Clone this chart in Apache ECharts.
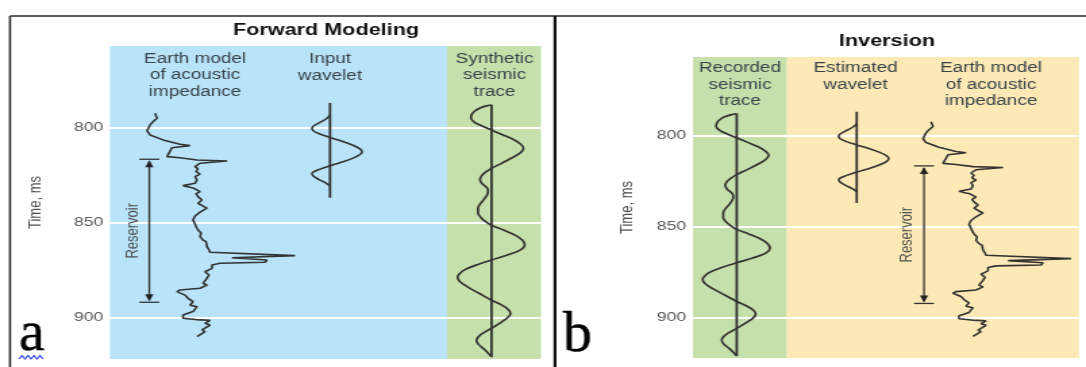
<!DOCTYPE html>
<html>
<head>
<meta charset="utf-8">
<script src="https://cdn.jsdelivr.net/npm/echarts@6/dist/echarts.min.js"></script>
<style>
  html, body { margin: 0; padding: 0; background: #ffffff; overflow: hidden; }
  #chart { height: 367px; transform-origin: 0 0; }
</style>
</head>
<body>
<div id="chart"></div>
<script>
// ---- values ----------------------------------------------------------
const timeRange = [757, 922];          // two-way time shown, ms
const timeTicks = [800, 850, 900];

// Earth model of acoustic impedance (relative units) against time (ms)
const impedanceTime = [792.5, 795.1, 796.9, 798.6, 801.8, 803.9, 806.5, 808.8, 809.5, 810.6,
  815.3, 815.9, 817.1, 817.6, 818.8, 820.6, 821.8, 823.2, 824.5, 825.9, 827.6, 829.4, 830.6,
  831.5, 832.0, 833.8, 835.0, 836.4, 838.2, 839.9, 841.7, 842.5, 844.6, 846.6, 848.7, 850.8,
  852.2, 854.0, 855.6, 857.5, 859.3, 860.1, 862.8, 864.5, 865.7, 867.5, 868.6, 869.8, 871.0,
  871.5, 872.4, 874.2, 876.0, 877.7, 879.4, 882.1, 883.0, 884.7, 885.6, 886.5, 888.3, 890.0,
  891.8, 893.6, 894.4, 897.0, 898.8, 900.5, 901.4, 901.6, 903.2, 904.1, 906.7, 907.6, 910.2];
const impedanceValue = [15, 17, 13, 10, 7, 10, 23, 40, 50, 32,
  27, 40, 57, 87, 60, 55, 58, 56, 60, 55, 57, 55, 43,
  50, 54, 60, 56, 58, 62, 58, 64, 67, 60, 55, 53, 55,
  56, 58, 61, 60, 63, 66, 67, 69, 70, 155, 92, 127, 125,
  80, 72, 72, 65, 69, 67, 63, 67, 60, 40, 37, 45, 48,
  53, 50, 57, 53, 43, 43, 60, 70, 65, 70, 62, 65, 57];

// Wavelet (input / estimated)
const waveletTime = [793.5, 795.5, 797.5, 799.2, 800.4, 801.8, 803.4, 805.2, 807.2, 809.3, 811.2,
  812.7, 814.2, 816.1, 818.2, 820.1, 821.9, 823.2, 824.3, 825.6, 827.4, 829.3, 831.0];
const waveletAmp = [0, -4, -11, -16.5, -18, -16.5, -10, 0, 12, 23, 30,
  32, 30, 23, 12, 0, -10, -16, -18, -16.5, -11, -4, 0];
const waveletSpan = [787, 837];

// Seismic trace (synthetic / recorded)
const traceTime = [788.1, 788.7, 789.8, 791.4, 793.3, 795.1, 797.2, 799.3, 801.3, 803.8, 806.3,
  808.7, 810.9, 813.2, 815.8, 818.6, 821.5, 823.5, 825.5, 827.5, 829.5, 831.5, 833.0, 835.0,
  837.5, 840.0, 842.5, 845.0, 847.5, 849.7, 851.5, 854.0, 856.8, 859.4, 861.9, 864.5, 867.2,
  869.8, 872.4, 875.0, 877.0, 878.8, 881.0, 884.0, 887.5, 891.0, 893.5, 896.0, 898.0, 900.0,
  902.5, 905.8, 908.5, 910.5, 912.3, 914.3, 917.0, 920.8];
const traceAmp = [0, -6, -12, -17, -20, -20.5, -17, -9, 0, 11, 22,
  29, 32, 29, 21, 11, 0, -6, -10, -11.5, -9.5, -5, -3.5, -4,
  -7, -11, -13.5, -13.5, -10.5, -5.5, 0, 12, 24, 31, 33.3, 29, 16,
  0, -15, -27, -32, -34, -32, -24, -12, 0, 10, 17, 19, 16.5,
  10, 0, -9, -13.5, -15, -13, -7, 0];
const traceSpan = [788, 921];

// Reservoir interval, ms
const reservoir = [816.7, 892.1];

// ---- layout ----------------------------------------------------------
const S = 1086 / 804;                 // the drawing is widened horizontally by S
const px = v => v / S;
const FONT = '"Liberation Sans", Arial, Helvetica, sans-serif';
const INK = '#333333';
const COLORS = { blue: '#b8e3f8', green: '#c5e0ab', yellow: '#fde9b5' };

const el = document.getElementById('chart');
el.style.width = '804px';
el.style.transform = 'scaleX(' + S + ')';

const pairs = (xs, ys) => xs.map((x, i) => [x, ys[i]]);

// columns: [left, width, top, height, color]
const cols = [
  [110, 337, 46, 313, COLORS.blue],
  [447, 94, 46, 313, COLORS.green],
  [693, 94, 57, 301, COLORS.green],
  [787, 292, 57, 301, COLORS.yellow]
];
const grids = cols.map(c => ({
  left: px(c[0]), width: px(c[1]), top: c[2], height: c[3],
  show: true, backgroundColor: c[4], borderWidth: 0, containLabel: false
}));

function timeAxis(gridIndex, labelled, nameGap) {
  return {
    type: 'value', gridIndex, min: timeRange[0], max: timeRange[1], inverse: true,
    axisLine: { show: false },
    axisTick: { show: false, customValues: timeTicks },
    axisLabel: { show: labelled, customValues: timeTicks, margin: 5, color: '#555',
      fontSize: 13, fontFamily: FONT },
    splitLine: { show: true, lineStyle: { color: '#ffffff', width: 2 } },
    name: labelled ? 'Time, ms' : '', nameLocation: 'middle', nameRotate: 90, nameGap,
    nameTextStyle: { color: '#505050', fontSize: 13, fontFamily: FONT }
  };
}

// one hidden amplitude axis per track: zero lands at `zeroAt` (px) inside its column
function track(gridIndex, zeroAt) {
  const c = cols[gridIndex];
  return { type: 'value', gridIndex, show: false,
    min: c[0] - zeroAt, max: c[0] + c[1] - zeroAt,
    axisLine: { show: false }, splitLine: { show: false } };
}

const xAxes = [
  track(0, 140),    // 0 impedance (forward)
  track(0, 330),    // 1 input wavelet
  track(0, 149.3),  // 2 reservoir marker
  track(1, 491.5),  // 3 synthetic trace
  track(2, 736.7),  // 4 recorded trace
  track(3, 856.7),  // 5 estimated wavelet
  track(3, 916),    // 6 impedance (inversion)
  track(3, 924)     // 7 reservoir marker
];

function curve(xi, yi, data, smooth, width) {
  return { type: 'line', xAxisIndex: xi, yAxisIndex: yi, data, symbol: 'none',
    smooth: smooth, clip: false, z: 3, silent: true,
    lineStyle: { color: INK, width: width || 1.6 } };
}
function stem(xi, yi, span) {
  return curve(xi, yi, [[0, span[0]], [0, span[1]]], false, 1.8);
}
function reservoirMarker(xi, yi) {
  return {
    type: 'custom', xAxisIndex: xi, yAxisIndex: yi, z: 3, silent: true, clip: false,
    encode: { x: 0, y: [1, 2] },
    data: [[0, reservoir[0], reservoir[1]]],
    renderItem: (params, api) => {
      const a = api.coord([api.value(0), api.value(1)]);
      const b = api.coord([api.value(0), api.value(2)]);
      const x = a[0], cap = px(10), aw = px(4.2), ah = 8;
      const stroke = { stroke: '#333', lineWidth: 1.3 };
      return { type: 'group', children: [
        { type: 'line', shape: { x1: x, y1: a[1] + 2, x2: x, y2: b[1] - 2 }, style: stroke },
        { type: 'line', shape: { x1: x - cap, y1: a[1], x2: x + cap, y2: a[1] }, style: stroke },
        { type: 'line', shape: { x1: x - cap, y1: b[1], x2: x + cap, y2: b[1] }, style: stroke },
        { type: 'polygon', shape: { points: [[x, a[1] + 1], [x - aw, a[1] + ah], [x + aw, a[1] + ah]] },
          style: { fill: '#222' } },
        { type: 'polygon', shape: { points: [[x, b[1] - 1], [x - aw, b[1] - ah], [x + aw, b[1] - ah]] },
          style: { fill: '#222' } },
        { type: 'text', x: x - px(17), y: (a[1] + b[1]) / 2, rotation: Math.PI / 2,
          style: { text: 'Reservoir', fontSize: 13, fontFamily: FONT, fill: '#505050',
            align: 'center', verticalAlign: 'middle' } }
      ] };
    }
  };
}

function label(text, x, y, opts) {
  return Object.assign({ type: 'text', x: px(x), y, z: 10, silent: true,
    style: Object.assign({ text, fontSize: 14, fontFamily: FONT, fill: '#38434a',
      align: 'center', verticalAlign: 'middle', lineHeight: 16.5 }, opts || {}) });
}
function panelLetter(text, x, y) {
  return { type: 'text', x: px(x), y, scaleX: 1 / S, z: 10, silent: true,
    style: { text, fontSize: 58, fontFamily: 'Liberation Serif, DejaVu Serif, serif',
      fill: '#000', stroke: '#000', lineWidth: 0.4, align: 'left', verticalAlign: 'middle' } };
}
function rule(x1, y1, x2, y2, w, c) {
  return { type: 'line', silent: true, z: 10,
    shape: { x1: px(x1), y1, x2: px(x2), y2 }, style: { stroke: c, lineWidth: w } };
}

// squiggle under the "a"
const squiggle = [];
for (let i = 0; i <= 8; i++) squiggle.push([px(19 + i * 3), i % 2 ? 355.5 : 359]);

const impedance = pairs(impedanceValue, impedanceTime);
const wavelet = pairs(waveletAmp, waveletTime);
const trace = pairs(traceAmp, traceTime);

const option = {
  animation: false,
  grid: grids,
  xAxis: xAxes,
  yAxis: [timeAxis(0, true, 49), timeAxis(1, false, 0), timeAxis(2, true, 42), timeAxis(3, false, 0)],
  graphic: [
    rule(10, 16, 1086, 16, 1.6, '#2b2b2b'),
    rule(10, 16, 10, 367, 1.6, '#2b2b2b'),
    rule(555, 16, 555, 367, 2.2, '#111'),
    label('Forward Modeling', 326, 31, { fontSize: 16, fontWeight: 'bold', fill: '#111' }),
    label('Inversion', 887, 42, { fontSize: 16, fontWeight: 'bold', fill: '#111' }),
    label('Earth model\nof acoustic\nimpedance', 195, 75.5),
    label('Input\nwavelet', 330, 67.5),
    label('Synthetic\nseismic\ntrace', 494.5, 75.5),
    label('Recorded\nseismic\ntrace', 740, 85),
    label('Estimated\nwavelet', 855.5, 76.5),
    label('Earth model\nof acoustic\nimpedance', 991, 85),
    panelLetter('a', 19, 335),
    panelLetter('b', 563, 336),
    { type: 'polyline', silent: true, z: 10, shape: { points: squiggle },
      style: { stroke: '#3846e8', lineWidth: 1.2, fill: null } }
  ],
  series: [
    curve(0, 0, impedance, false, 1.6),
    stem(1, 0, waveletSpan),
    curve(1, 0, wavelet, 0.4, 1.6),
    reservoirMarker(2, 0),
    stem(3, 1, traceSpan),
    curve(3, 1, trace, 0.35, 1.7),
    stem(4, 2, traceSpan),
    curve(4, 2, trace, 0.35, 1.7),
    stem(5, 3, waveletSpan),
    curve(5, 3, wavelet, 0.4, 1.6),
    curve(6, 3, impedance, false, 1.6),
    reservoirMarker(7, 3)
  ]
};

const chart = echarts.init(el, null, { renderer: 'canvas' });
chart.setOption(option);
</script>
</body>
</html>
